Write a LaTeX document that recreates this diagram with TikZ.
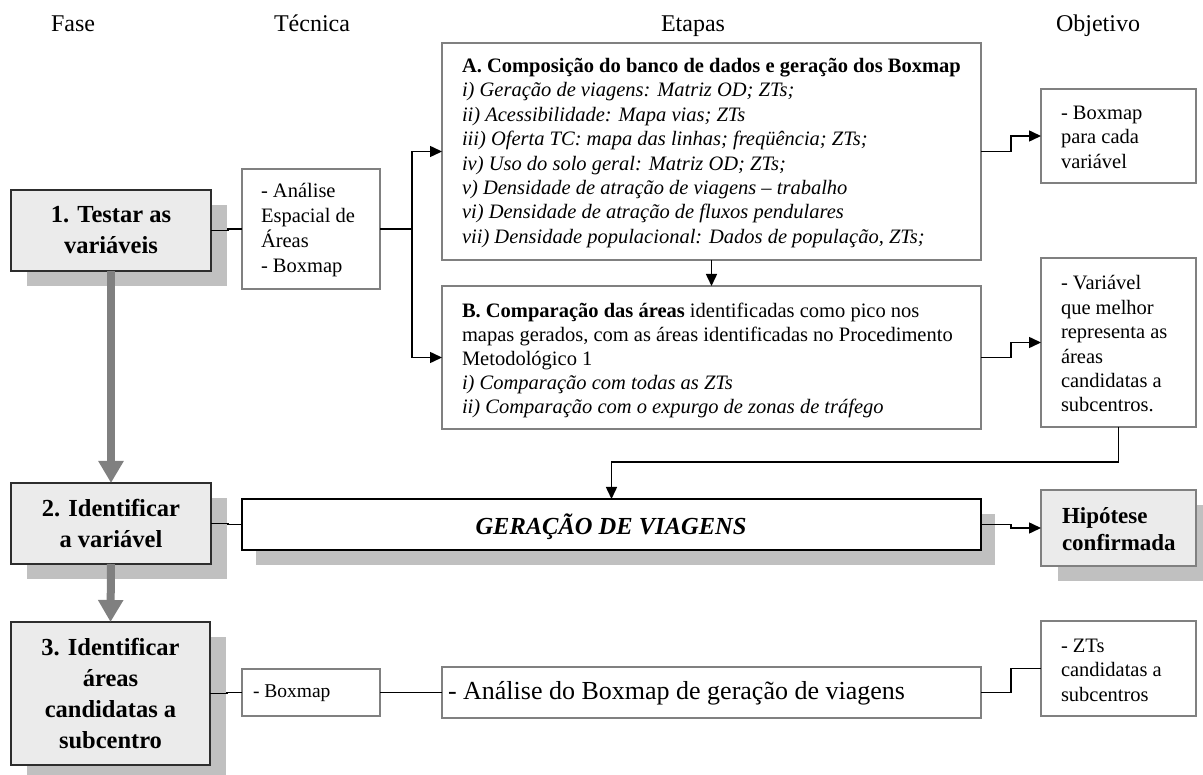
\documentclass[tikz,border=0pt]{standalone}
\usepackage{fontspec}
\setmainfont{Liberation Serif}
\usetikzlibrary{arrows.meta,calc,fit,shadows}
\definecolor{bordergray}{RGB}{128,128,128}
\definecolor{darkborder}{RGB}{45,45,45}
\definecolor{lightfill}{RGB}{235,235,235}
\definecolor{shadowgray}{RGB}{192,192,192}
\definecolor{arrowgray}{RGB}{128,128,128}
\begin{document}
\begin{tikzpicture}[x=1pt,y=-1pt,
  every node/.style={inner sep=0pt, outer sep=0pt},
  wbox/.style={draw=bordergray, line width=1.2pt, fill=white},
  gbox/.style={draw=darkborder, line width=1.4pt, fill=lightfill,
     drop shadow={shadow xshift=16pt, shadow yshift=-15pt, fill=shadowgray, opacity=1}},
  gerbox/.style={draw=black, line width=1.5pt, fill=white,
     drop shadow={shadow xshift=14pt, shadow yshift=-15pt, fill=shadowgray, opacity=1}},
  hipbox/.style={draw=bordergray, line width=1.2pt, fill=lightfill,
     drop shadow={shadow xshift=17pt, shadow yshift=-15pt, fill=shadowgray, opacity=1}},
  conn/.style={line width=1.5pt, draw=black},
  arr/.style={conn, -{Triangle[length=12pt,width=11pt]}},
  garr/.style={line width=8pt, draw=arrowgray, -{Triangle[length=22pt,width=24pt]}},
  hdr/.style={font=\fontsize{24}{28}\selectfont, anchor=base},
  phase/.style={font=\fontsize{24.5}{31}\selectfont\bfseries, align=center},
  body/.style={font=\fontsize{20.5}{24.4}\selectfont, align=left, anchor=west},
  big/.style={font=\fontsize{25}{29}\selectfont},
]
\useasboundingbox (0,0) rectangle (1203,775);

% headers
\node[hdr] (hFase) at (73,32) {Fase};
\node[hdr] (hTec) at (312,32) {Técnica};
\node[hdr] (hEta) at (693,32) {Etapas};
\node[hdr] (hObj) at (1098,32) {Objetivo};

% phase boxes
\node[gbox, fit={(11,190) (211,271)}] (p1) {};
\node[gbox, fit={(11,483) (211,564)}] (p2) {};
\node[gbox, fit={(11,622) (210,765)}] (p3) {};
\node[phase] (p1t) at (p1.center) {1. Testar as\\variáveis};
\node[phase] (p2t) at (p2.center) {2. Identificar\\a variável};
\node[phase] (p3t) at (p3.center) {3. Identificar\\áreas\\candidatas a\\subcentro};

% technique boxes
\node[wbox, fit={(242,169) (380,289)}] (t1) {};
\node[body, font=\fontsize{20.5}{25}\selectfont] (t1t) at (261,230) {- Análise\\Espacial de\\Áreas\\- Boxmap};
\node[wbox, fit={(242,669) (380,716)}] (t2) {};
\node[body, font=\fontsize{19.5}{23}\selectfont] (t2t) at (253,693) {- Boxmap};

% stage boxes
\node[wbox, fit={(442,43) (981,260)}] (A) {};
\node[body] (At) at (462,153) {\textbf{A. Composição do banco de dados e geração dos Boxmap}\\
\textit{i) Geração de viagens: Matriz OD; ZTs;}\\
\textit{ii) Acessibilidade: Mapa vias; ZTs}\\
\textit{iii) Oferta TC: mapa das linhas; freqüência; ZTs;}\\
\textit{iv) Uso do solo geral: Matriz OD; ZTs;}\\
\textit{v) Densidade de atração de viagens – trabalho}\\
\textit{vi) Densidade de atração de fluxos pendulares}\\
\textit{vii) Densidade populacional: Dados de população, ZTs;}};

\node[wbox, fit={(442,286) (981,429)}] (B) {};
\node[body, font=\fontsize{20.5}{24}\selectfont] (Bt) at (462,360) {\textbf{B. Comparação das áreas} identificadas como pico nos\\
mapas gerados, com as áreas identificadas no Procedimento\\
Metodológico 1\\
\textit{i) Comparação com todas as ZTs}\\
\textit{ii) Comparação com o expurgo de zonas de tráfego}};

\node[gerbox, fit={(242,499) (981,550)}] (G) {};
\node[big, font=\fontsize{24.5}{28}\selectfont\bfseries\itshape] (Gt) at (611,527) {GERAÇÃO DE VIAGENS};

\node[wbox, fit={(442,667) (981,718)}] (An) {};
\node[big, anchor=west, font=\fontsize{26}{30}\selectfont] (Ant) at (448,693) {- Análise do Boxmap de geração de viagens};

% objective boxes
\node[wbox, fit={(1041,89) (1196,183)}] (o1) {};
\node[body] (o1t) at (1061,137) {- Boxmap\\para cada\\variável};
\node[wbox, fit={(1041,258) (1196,427)}] (o2) {};
\node[body] (o2t) at (1061,344) {- Variável\\que melhor\\representa as\\áreas\\candidatas a\\subcentros.};
\node[hipbox, fit={(1041,490) (1196,566)}] (hip) {};
\node[body, font=\fontsize{23}{27}\selectfont\bfseries] (hipt) at (1062,529) {Hipótese\\confirmada};
\node[wbox, fit={(1041,621) (1196,716)}] (o3) {};
\node[body] (o3t) at (1061,670) {- ZTs\\candidatas a\\subcentros};

% gray phase arrows
\draw[garr] (p1.south) -- (p2.north);
\draw[garr] (p2.south) -- (p3.north);

% connectors
\draw[conn] (p1.east) -- ++(17,0) |- (t1.west);
\coordinate (j1) at (412,229);
\draw[conn] (t1.west -| t1.east) -- (j1);
\draw[arr] (j1) |- (A.west);
\draw[arr] (j1) |- (B.west);
\draw[arr] (A.south) -- (B.north);
\draw[arr] (A.east) -- ++(30,0) |- (o1.west);
\draw[arr] (B.east) -- ++(30,0) |- (o2.west);
\draw[arr] (o2.south) -- ++(0,35) -| (G.north);
\draw[conn] (p2.east) -- ++(17,0) |- (G.west);
\draw[arr] (G.east) -- ++(30,0) |- (hip.west);
\draw[conn] (p3.east) -- ++(17,0) |- (t2.west);
\draw[conn] (t2.east) -- ++(31,0) |- (An.west);
\draw[conn] (An.east) -- ++(30,0) |- (o3.west);
\end{tikzpicture}
\end{document}
